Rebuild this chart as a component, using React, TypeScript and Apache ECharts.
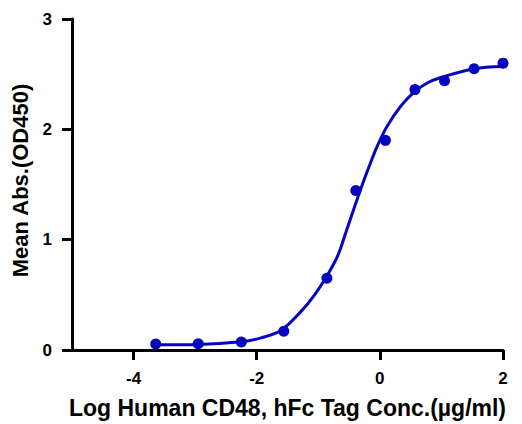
import React, { useEffect, useRef } from "react";
import * as echarts from "echarts";

const pointX = [-3.64, -2.95, -2.25, -1.56, -0.86, -0.39, 0.09, 0.57, 1.05, 1.53, 2.0];
const pointY = [0.054, 0.057, 0.072, 0.17, 0.65, 1.446, 1.9, 2.36, 2.44, 2.55, 2.6];

const curveX = [-3.64, -2.95, -2.25, -1.93, -1.6, -1.28, -1.06, -0.85, -0.68, -0.55, -0.44, -0.31, -0.17, -0.04, 0.12, 0.34, 0.56, 0.77, 0.99, 1.53, 2.0];
const curveY = [0.047, 0.05, 0.075, 0.11, 0.18, 0.35, 0.5, 0.68, 0.86, 1.07, 1.25, 1.46, 1.67, 1.85, 2.03, 2.21, 2.34, 2.42, 2.47, 2.55, 2.57];

const xTicks = [-4, -2, 0, 2];
const xTitle = "Log Human CD48, hFc Tag Conc.(µg/ml)";
const yTitle = "Mean Abs.(OD450)";

const BLUE = "#0505c0";
const FONT = "Liberation Sans, Arial, sans-serif";

export default function App() {
  const ref = useRef<HTMLDivElement>(null);
  useEffect(() => {
    if (!ref.current) return;
    const chart = echarts.init(ref.current, undefined, { renderer: "svg" });
    const axisLine = { show: true, onZero: false, lineStyle: { color: "#000", width: 3 } };
    chart.setOption({
      animation: false,
      backgroundColor: "#fff",
      grid: { left: 72, right: 19, top: 19, bottom: 72, containLabel: false },
      xAxis: {
        type: "value",
        min: -5,
        max: 2,
        axisLine,
        axisTick: { show: true, customValues: xTicks, length: 10, lineStyle: { color: "#000", width: 3 } },
        axisLabel: {
          customValues: xTicks,
          color: "#000",
          fontSize: 17,
          fontWeight: "bold",
          fontFamily: FONT,
          margin: 20,
        },
        splitLine: { show: false },
        name: xTitle,
        nameLocation: "middle",
        nameGap: 46,
        nameTextStyle: { color: "#000", fontSize: 23, fontWeight: "bold", fontFamily: FONT },
      },
      yAxis: {
        type: "value",
        min: 0,
        max: 3,
        interval: 1,
        axisLine,
        axisTick: { show: true, length: 10, lineStyle: { color: "#000", width: 3 } },
        axisLabel: {
          color: "#000",
          fontSize: 17,
          fontWeight: "bold",
          fontFamily: FONT,
          margin: 20,
        },
        splitLine: { show: false },
        name: yTitle,
        nameLocation: "middle",
        nameGap: 38,
        nameTextStyle: { color: "#000", fontSize: 22, fontWeight: "bold", fontFamily: FONT, padding: [0, 0, 0, 8] },
      },
      series: [
        {
          type: "line",
          data: curveX.map((x, i) => [x, curveY[i]]),
          smooth: 0.35,
          showSymbol: false,
          symbol: "none",
          lineStyle: { color: BLUE, width: 3 },
          z: 2,
        },
        {
          type: "scatter",
          data: pointX.map((x, i) => [x, pointY[i]]),
          symbol: "circle",
          symbolSize: 11,
          itemStyle: { color: BLUE, opacity: 1 },
          z: 3,
        },
      ],
    });
    return () => chart.dispose();
  }, []);
  return (
    <div
      ref={ref}
      style={{ position: "absolute", left: 0, top: 0, width: 522, height: 424 }}
    />
  );
}
